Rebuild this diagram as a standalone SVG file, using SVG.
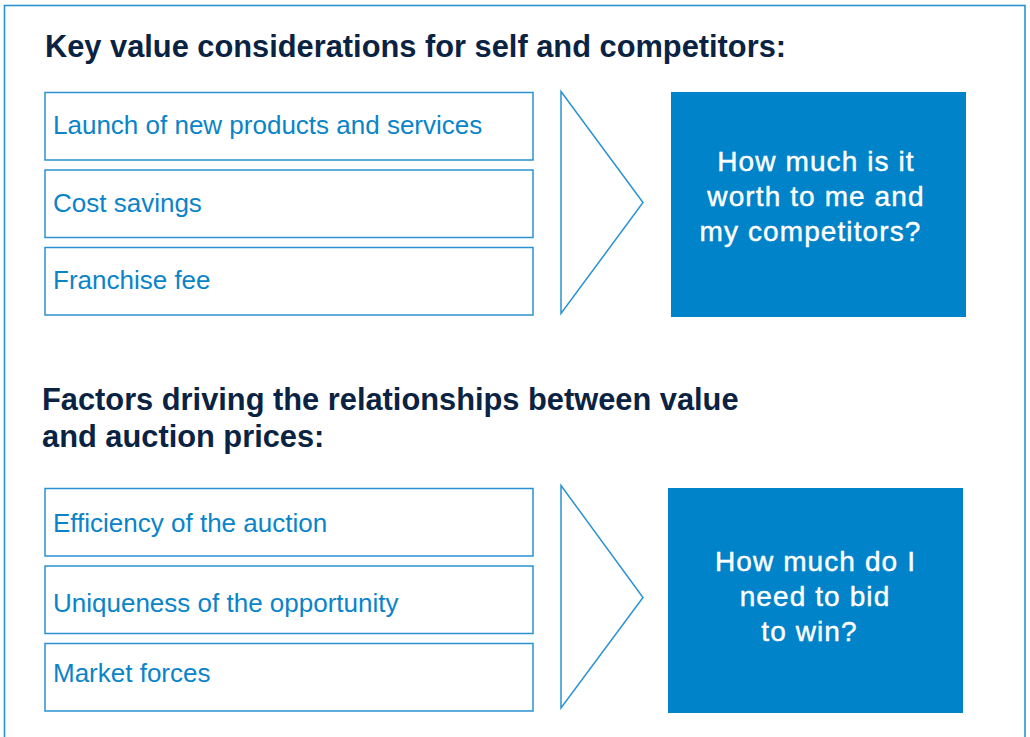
<svg xmlns="http://www.w3.org/2000/svg" width="1030" height="737" viewBox="0 0 1030 737">
<style>
.frame{fill:none;stroke:#2a92d2;stroke-width:1.6}
.item rect{fill:#ffffff;stroke:#2a92d2;stroke-width:1.5}
.item text{font-family:"Liberation Sans",Arial,sans-serif;font-size:26px;fill:#0a84c9}
.head{font-family:"Liberation Sans",Arial,sans-serif;font-size:30.8px;font-weight:bold;fill:#0b2343}
.chev{fill:#ffffff;stroke:#2a92d2;stroke-width:1.5;stroke-linejoin:miter}
.result rect{fill:#0083c8}
.result text{font-family:"Liberation Sans",Arial,sans-serif;font-size:28px;letter-spacing:1.1px;fill:#ffffff;stroke:#ffffff;stroke-width:0.45;text-anchor:middle}
</style>
<rect x="0" y="0" width="1030" height="737" fill="#ffffff"/>
<rect class="frame" x="4.5" y="5.5" width="1020.5" height="760"/>

<g id="heading1">
<text class="head" x="45" y="57">Key value considerations for self and competitors:</text>
</g>

<g id="item-launch" class="item">
<rect x="45" y="92.5" width="488" height="67.5"/>
<text x="53" y="134">Launch of new products and services</text>
</g>
<g id="item-cost" class="item">
<rect x="45" y="170" width="488" height="67.5"/>
<text x="53" y="212">Cost savings</text>
</g>
<g id="item-franchise" class="item">
<rect x="45" y="247.5" width="488" height="67.5"/>
<text x="53" y="289">Franchise fee</text>
</g>

<g id="connectors">
<polygon class="chev" points="561,91.5 643,202.5 561,313.5"/>
<polygon class="chev" points="561,485.5 643,597.5 561,708"/>
</g>

<g id="result1" class="result">
<rect x="671" y="92" width="295" height="225"/>
<text x="816" y="170.5">How much is it</text>
<text x="816" y="205.5">worth to me and</text>
<text x="810.5" y="240.5">my competitors?</text>
</g>

<g id="heading2">
<text class="head" x="42" y="410">Factors driving the relationships between value</text>
<text class="head" x="42" y="447">and auction prices:</text>
</g>

<g id="item-efficiency" class="item">
<rect x="45" y="488.5" width="488" height="67.5"/>
<text x="53" y="532">Efficiency of the auction</text>
</g>
<g id="item-uniqueness" class="item">
<rect x="45" y="566" width="488" height="67.5"/>
<text x="53" y="612">Uniqueness of the opportunity</text>
</g>
<g id="item-market" class="item">
<rect x="45" y="643.5" width="488" height="67.5"/>
<text x="53" y="682">Market forces</text>
</g>

<g id="result2" class="result">
<rect x="668" y="488" width="295" height="225"/>
<text x="815.5" y="571">How much do I</text>
<text x="815" y="605.5">need to bid</text>
<text x="809.5" y="641">to win?</text>
</g>
</svg>
